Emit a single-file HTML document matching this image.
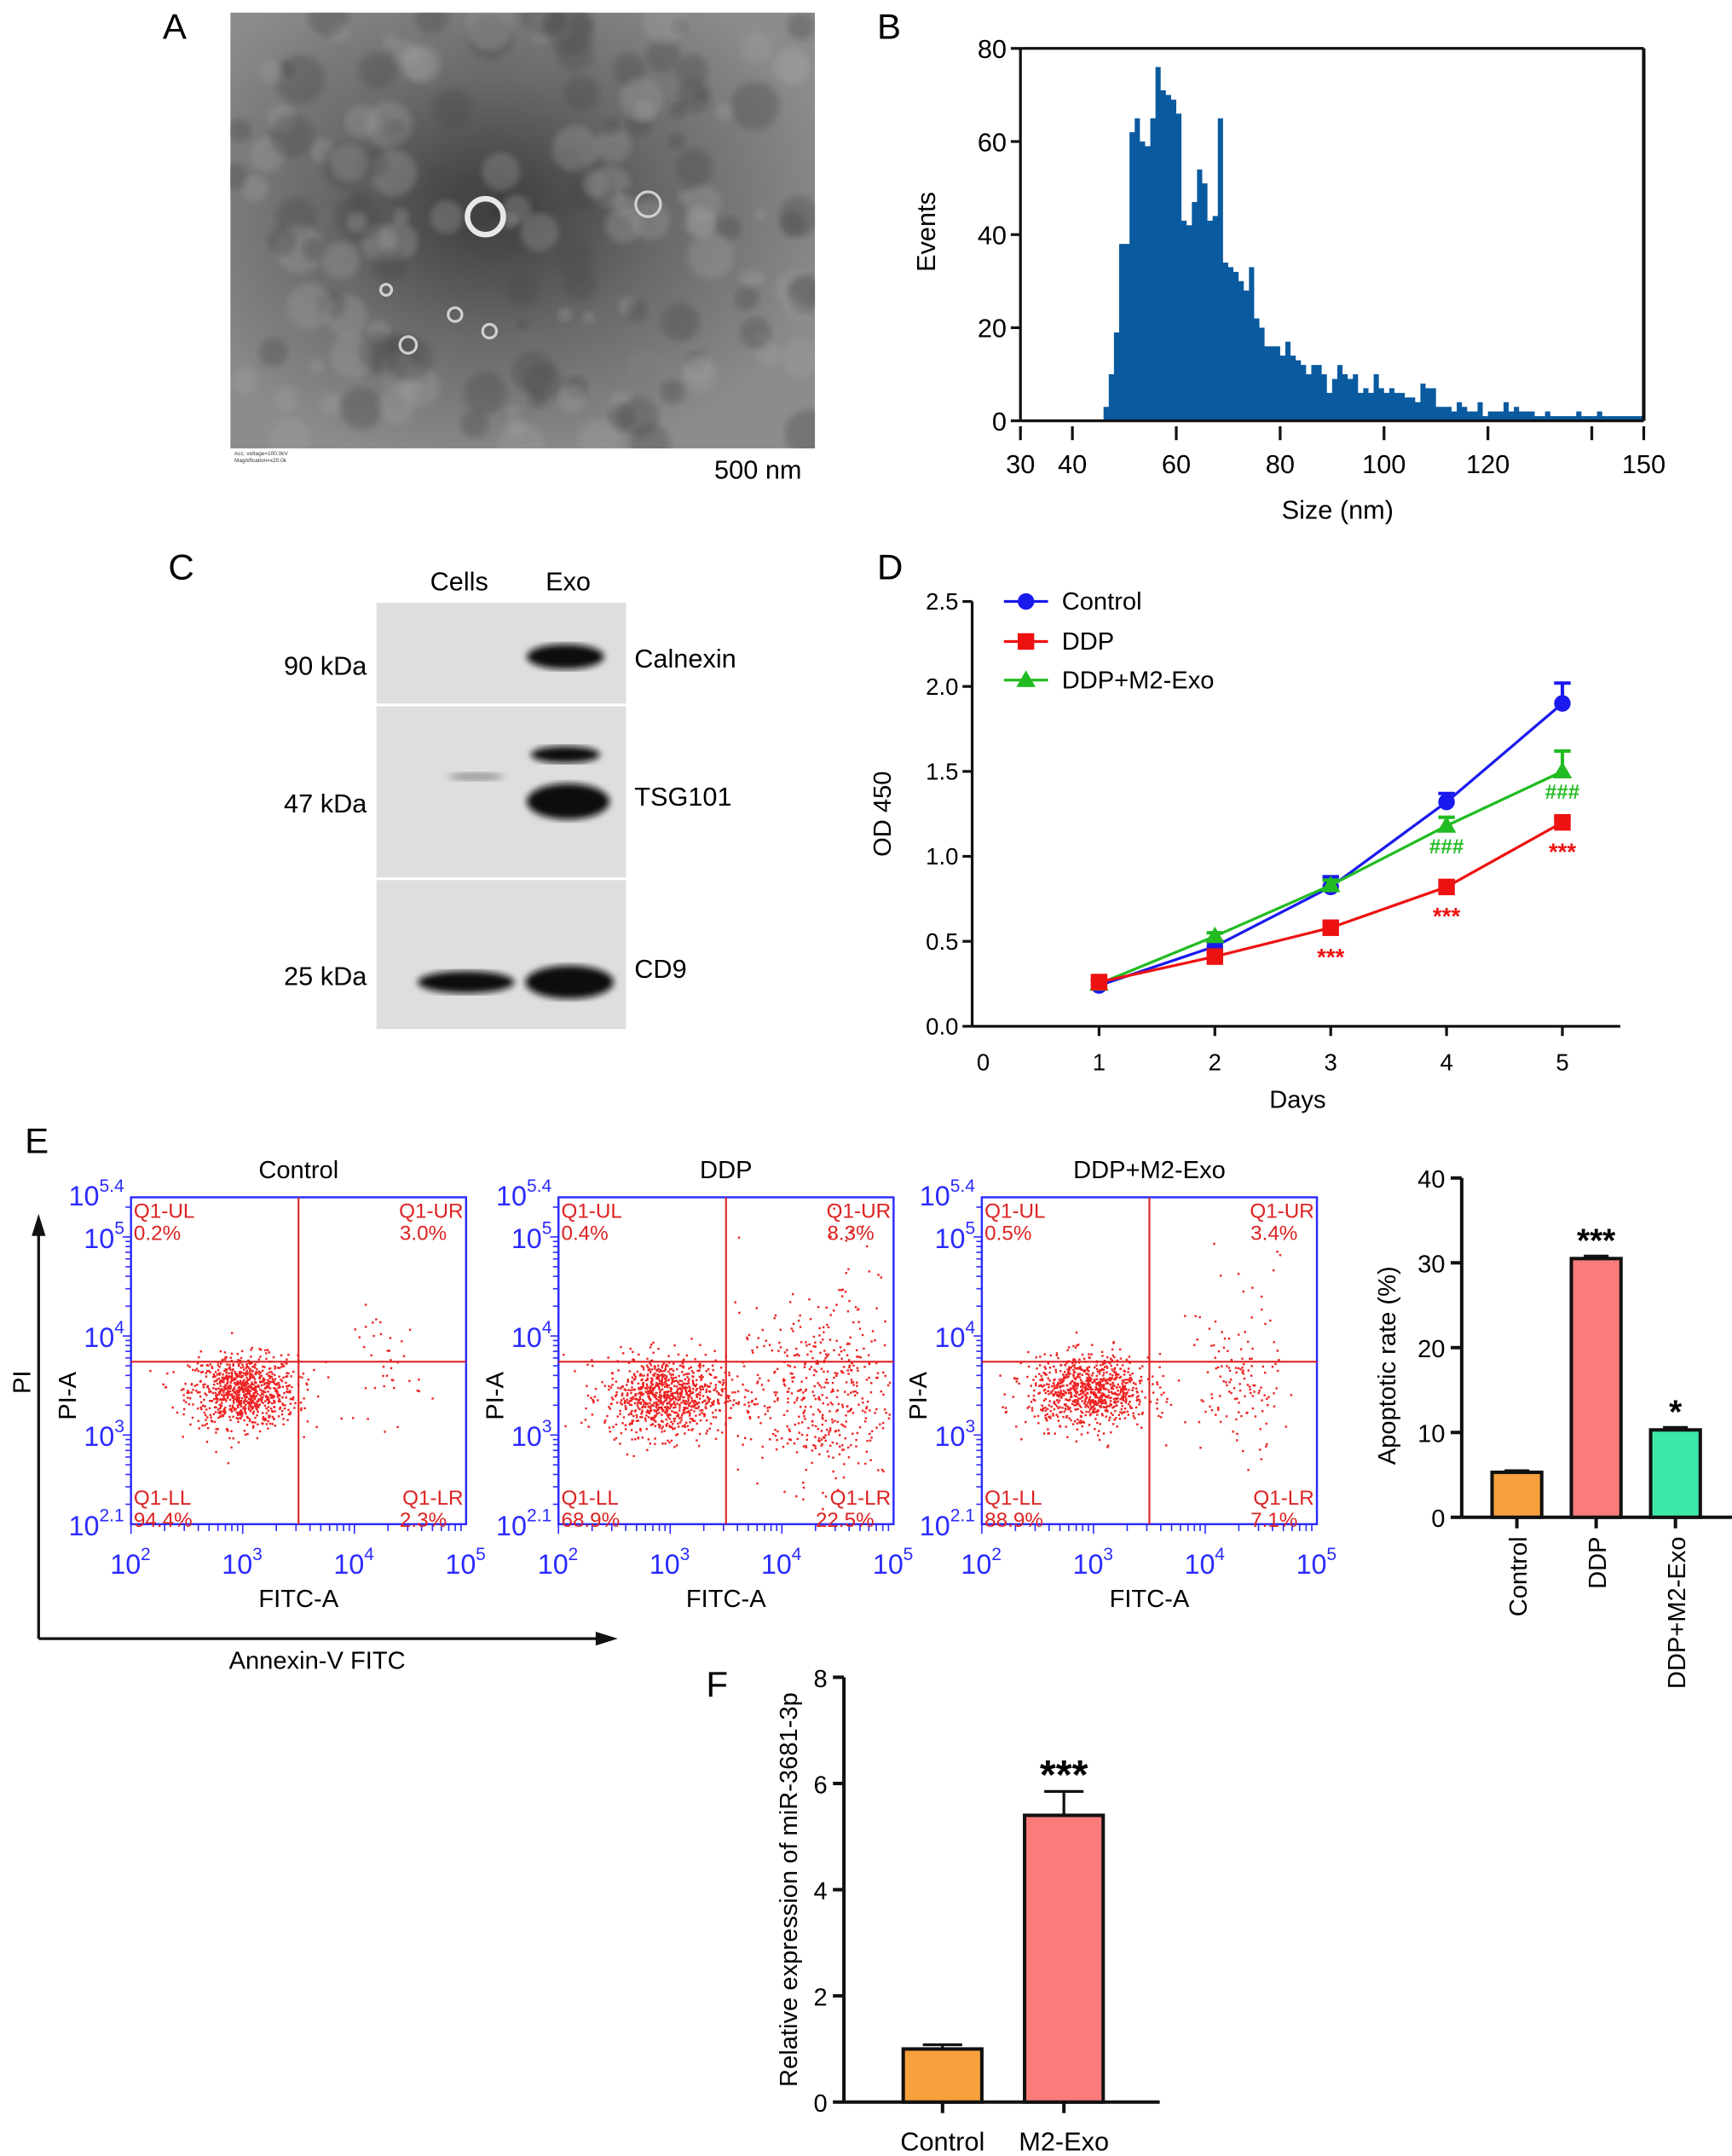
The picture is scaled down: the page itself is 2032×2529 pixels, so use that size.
<!DOCTYPE html>
<html><head><meta charset="utf-8"><style>
html,body{margin:0;padding:0;background:#fff}
svg{display:block}
text{font-family:"Liberation Sans",Arial,sans-serif}
</style></head><body>
<svg id="fig" width="2032" height="2529" viewBox="0 0 1256 1563" xmlns="http://www.w3.org/2000/svg">
<defs>
<radialGradient id="temg" cx="0.45" cy="0.45" r="0.6"><stop offset="0" stop-color="#3a3a3a"/><stop offset="0.5" stop-color="#6a6a6a"/><stop offset="1" stop-color="#8c8c8c"/></radialGradient>
<filter id="blur2"><feGaussianBlur stdDeviation="2.5"/></filter>
<clipPath id="temclip"><rect x="167" y="9" width="424" height="316"/></clipPath>
</defs>
<g id="root"></g>
</svg>
<script>
// ---------- data ----------
const histBins=[46,47,48,49,50,51,52,53,54,55,56,57,58,59,60,61,62,63,64,65,66,67,68,69,70,71,72,73,74,75,76,77,78,79,80,81,82,83,84,85,86,87,88,89,90,91,92,93,94,95,96,97,98,99,100,101,102,103,104,105,106,107,108,109,110,111,112,113,114,115,116,117,118,119,120,121,122,123,124,125,126,127,128,129,130,131,132,133,134,135,136,137,138,139,140,141,142,143,144,145,146,147,148,149];
const histCounts=[3,10,19,38,38,62,65,60,59,65,76,71,70,69,66,43,42,47,54,51,43,44,65,34,33,32,30,28,33,22,20,16,16,16,14,17,14,13,12,10,12,12,10,6,9,12,10,9,10,6,7,6,10,7,6,7,6,6,5,5,4,8,7,7,3,3,3,2,4,3,2,2,4,1,2,2,2,4,2,3,2,2,2,1,1,2,1,1,1,1,1,2,1,1,1,2,1,1,1,1,1,1,1,1];
const histXTicks=[30,40,60,80,100,120,150];
const histYTicks=[0,20,40,60,80];

const days=[1,2,3,4,5];
const odControl=[0.24,0.47,0.82,1.32,1.90];
const odControlErr=[0.03,0.03,0.06,0.05,0.12];
const odDDP=[0.26,0.41,0.58,0.82,1.20];
const odDDPErr=[0.02,0.02,0.02,0.03,0.03];
const odM2=[0.25,0.53,0.83,1.18,1.50];
const odM2Err=[0.02,0.02,0.03,0.05,0.12];
const odYTicks=[0,0.5,1.0,1.5,2.0,2.5];
const odXTicks=[0,1,2,3,4,5];

const apoGroups=["Control","DDP","DDP+M2-Exo"];
const apoValues=[5.3,30.5,10.3];
const apoErr=[0.2,0.3,0.3];
const apoYTicks=[0,10,20,30,40];

const mirGroups=["Control","M2-Exo"];
const mirValues=[1.0,5.4];
const mirErr=[0.08,0.45];
const mirYTicks=[0,2,4,6,8];

const flowTitles=["Control","DDP","DDP+M2-Exo"];
const flowUL=["0.2%","0.4%","0.5%"];
const flowUR=["3.0%","8.3%","3.4%"];
const flowLL=["94.4%","68.9%","88.9%"];
const flowLR=["2.3%","22.5%","7.1%"];
// clusters: [logx, logy, sdx, sdy, count] per panel
const flowClusters=[
 [[3.0,3.45,0.24,0.18,900],[4.3,3.7,0.15,0.3,40]],
 [[2.95,3.4,0.27,0.2,900],[4.3,3.4,0.35,0.45,450],[4.7,4.4,0.2,0.5,40]],
 [[2.95,3.45,0.27,0.18,900],[4.3,3.5,0.18,0.35,120],[4.3,4.4,0.3,0.4,15]]
];

// ---------- helpers ----------
const NS="http://www.w3.org/2000/svg";
const root=document.getElementById('root');
function el(tag,attrs,parent,txt){const e=document.createElementNS(NS,tag);for(const k in attrs)e.setAttribute(k,attrs[k]);if(txt!==undefined)e.textContent=txt;(parent||root).appendChild(e);return e;}
function grp(name,parent){const g=el('g',{},parent);return g;}
let seed=12345;function rnd(){seed=(seed*1103515245+12345)%2147483648;return seed/2147483648;}
function gauss(){let u=rnd()||1e-6,v=rnd();return Math.sqrt(-2*Math.log(u))*Math.cos(2*Math.PI*v);}

// panel letters
[["A",118,28],["B",636,28],["C",122,420],["D",636,420],["E",18,836],["F",512,1230]].forEach(p=>{
 const t=el('text',{x:p[1],y:p[2],'font-size':26},root,p[0]);
 
 
});

// ---------- A: TEM ----------
(function(){
 const g=grp('tem-image');
 const c=el('g',{'clip-path':'url(#temclip)'},g);
 el('rect',{x:167,y:9,width:424,height:316,fill:'url(#temg)'},c);
 for(let i=0;i<160;i++){const cx=167+rnd()*424,cy=9+rnd()*316;el('circle',{cx,cy,r:4+rnd()*14,fill:rnd()<0.5?'#4a4a4a':'#a0a0a0',opacity:0.35,filter:'url(#blur2)'},c);}
 el('circle',{cx:352,cy:157,r:13,fill:'none',stroke:'#e8e8e8','stroke-width':4},c);
 [[470,148,9],[296,250,6],[330,228,5],[355,240,5],[280,210,4]].forEach(k=>el('circle',{cx:k[0],cy:k[1],r:k[2],fill:'none',stroke:'#d0d0d0','stroke-width':2},c));
 const s=el('text',{x:518,y:347,'font-size':19},g,'500 nm');
 
 el('text',{x:170,y:330,'font-size':4,fill:'#333'},g,'Acc. voltage=100.0kV');
 el('text',{x:170,y:335,'font-size':4,fill:'#333'},g,'Magnification=x20.0k');
})();

// ---------- B: histogram ----------
(function(){
 const g=grp('size-histogram');
 const X=v=>740+(v-30)*(1192-740)/120, Y=v=>305-v*(305-35)/80;
 let d='M'+X(histBins[0])+','+Y(0);
 histBins.forEach((b,i)=>{d+=' L'+X(b)+','+Y(histCounts[i])+' L'+X(b+1)+','+Y(histCounts[i]);});
 d+=' L'+X(histBins[histBins.length-1]+1)+','+Y(0)+'Z';
 const p=el('path',{d,fill:'#0a5aa0'},g);
 el('line',{x1:X(30),y1:Y(0),x2:X(150),y2:Y(0),stroke:'#111','stroke-width':2},g);
 el('line',{x1:X(30),y1:Y(80),x2:X(150),y2:Y(80),stroke:'#111','stroke-width':2},g);
 el('line',{x1:X(30),y1:Y(0),x2:X(30),y2:Y(80),stroke:'#111','stroke-width':2},g);
 el('line',{x1:X(150),y1:Y(0),x2:X(150),y2:Y(80),stroke:'#111','stroke-width':2.5},g);
 histYTicks.forEach(v=>{el('line',{x1:X(30)-7,y1:Y(v),x2:X(30),y2:Y(v),stroke:'#111','stroke-width':2},g);
  const t=el('text',{x:X(30)-10,y:Y(v)+7,'font-size':19,'text-anchor':'end'},g,String(v));});
 histXTicks.forEach(v=>{el('line',{x1:X(v),y1:Y(0)+4,x2:X(v),y2:Y(0)+14,stroke:'#111','stroke-width':2},g);
  const t=el('text',{x:X(v),y:Y(0)+38,'font-size':19,'text-anchor':'middle'},g,String(v));});
 el('line',{x1:X(140),y1:Y(0)+4,x2:X(140),y2:Y(0)+14,stroke:'#111','stroke-width':2},g);
 const xt=el('text',{x:970,y:376,'font-size':19,'text-anchor':'middle'},g,'Size (nm)');
 const yt=el('text',{x:0,y:0,'font-size':19,'text-anchor':'middle',transform:'translate(678,168) rotate(-90)'},g,'Events');
})();

// ---------- C: western blot ----------
(function(){
 const g=grp('western-blot');
 [[273,437,73],[273,512,124],[273,638,108]].forEach(r=>el('rect',{x:r[0],y:r[1],width:181,height:r[2],fill:'#dedede'},g));
 el('text',{x:333,y:428,'font-size':19,'text-anchor':'middle'},g,'Cells');
 el('text',{x:412,y:428,'font-size':19,'text-anchor':'middle'},g,'Exo');
 [['90 kDa',489,'Calnexin'],['47 kDa',589,'TSG101'],['25 kDa',714,'CD9']].forEach(r=>{
  el('text',{x:266,y:r[1],'font-size':19,'text-anchor':'end'},g,r[0]);
  const t=el('text',{x:460,y:r[1]-5,'font-size':19},g,r[2]);});
 [[410,476,28,9],[410,547,25,6],[412,581,30,13],[338,712,35,8],[413,712,32,12],[345,563,20,3]].forEach(b=>el('ellipse',{cx:b[0],cy:b[1],rx:b[2],ry:b[3],fill:b[3]<5?'#999':'#111',filter:'url(#blur2)'},g));
})();

// ---------- D: OD line chart ----------
(function(){
 const g=grp('od-line-chart');
 const X=v=>713+v*84, Y=v=>744-v*123.2;
 el('line',{x1:705,y1:Y(0),x2:1175,y2:Y(0),stroke:'#111','stroke-width':2},g);
 el('line',{x1:705,y1:Y(0),x2:705,y2:Y(2.5),stroke:'#111','stroke-width':2},g);
 odYTicks.forEach(v=>{el('line',{x1:698,y1:Y(v),x2:705,y2:Y(v),stroke:'#111','stroke-width':2},g);
  const t=el('text',{x:695,y:Y(v)+6,'font-size':17,'text-anchor':'end'},g,v.toFixed(1));});
 odXTicks.forEach(v=>{if(v>0)el('line',{x1:X(v),y1:Y(0),x2:X(v),y2:Y(0)+7,stroke:'#111','stroke-width':2},g);
  const t=el('text',{x:X(v),y:Y(0)+32,'font-size':17,'text-anchor':'middle'},g,String(v));});
 el('text',{x:941,y:803,'font-size':18,'text-anchor':'middle'},g,'Days');
 el('text',{x:0,y:0,'font-size':18,'text-anchor':'middle',transform:'translate(646,590) rotate(-90)'},g,'OD 450');
 const series=[[odControl,odControlErr,'#1a1aee','circle','control'],[odM2,odM2Err,'#22bb22','tri','m2'],[odDDP,odDDPErr,'#ee1111','square','ddp']];
 series.forEach(s=>{
  const sg=grp('series-'+s[4],g);
  el('polyline',{points:days.map((d,i)=>X(d)+','+Y(s[0][i])).join(' '),fill:'none',stroke:s[2],'stroke-width':2},sg);
  days.forEach((d,i)=>{
   const x=X(d),y=Y(s[0][i]),ye=Y(s[0][i]+s[1][i]);
   el('line',{x1:x,y1:y,x2:x,y2:ye,stroke:s[2],'stroke-width':2.5},sg);
   el('line',{x1:x-6,y1:ye,x2:x+6,y2:ye,stroke:s[2],'stroke-width':2.5},sg);
   let m;
   if(s[3]==='circle')m=el('circle',{cx:x,cy:y,r:6,fill:s[2]},sg);
   else if(s[3]==='square')m=el('rect',{x:x-6,y:y-6,width:12,height:12,fill:s[2]},sg);
   else m=el('polygon',{points:`${x},${y-7} ${x-7},${y+5} ${x+7},${y+5}`,fill:s[2]},sg);
   
  });
 });
 [[3,odDDP[2],'***','#ee1111'],[4,odDDP[3],'***','#ee1111'],[5,odDDP[4],'***','#ee1111'],[4,odM2[3],'###','#22bb22'],[5,odM2[4],'###','#22bb22']].forEach(a=>{
  el('text',{x:X(a[0]),y:Y(a[1])+(a[2]==='***'?27:20),'font-size':a[2]==='***'?17:15,'text-anchor':'middle',fill:a[3],'font-weight':'bold'},g,a[2]);});
 const leg=grp('od-legend',g);
 [['Control','#1a1aee','circle',436],['DDP','#ee1111','square',465],['DDP+M2-Exo','#22bb22','tri',493]].forEach(l=>{
  el('line',{x1:728,y1:l[3],x2:760,y2:l[3],stroke:l[1],'stroke-width':2},leg);
  if(l[2]==='circle')el('circle',{cx:744,cy:l[3],r:6,fill:l[1]},leg);
  else if(l[2]==='square')el('rect',{x:738,y:l[3]-6,width:12,height:12,fill:l[1]},leg);
  else el('polygon',{points:`744,${l[3]-7} 737,${l[3]+5} 751,${l[3]+5}`,fill:l[1]},leg);
  const t=el('text',{x:770,y:l[3]+6,'font-size':18},leg,l[0]);
 });
})();

// ---------- E: flow plots ----------
(function(){
 const g=grp('flow-cytometry');
 el('line',{x1:28,y1:1188,x2:28,y2:888,stroke:'#111','stroke-width':2},g);
 el('polygon',{points:'28,880 23,896 33,896',fill:'#111'},g);
 el('line',{x1:28,y1:1188,x2:440,y2:1188,stroke:'#111','stroke-width':2},g);
 el('polygon',{points:'448,1188 432,1183 432,1193',fill:'#111'},g);
 el('text',{x:230,y:1210,'font-size':18,'text-anchor':'middle'},g,'Annexin-V FITC');
 el('text',{x:0,y:0,'font-size':18,'text-anchor':'middle',transform:'translate(22,1002) rotate(-90)'},g,'PI');
 const lefts=[95,405,712];
 lefts.forEach((x0,p)=>{
  const pg=grp('flow-plot-'+p,g);
  const w=243,y0=868,y1=1105;
  const X=v=>x0+(v-2)*w/3, Y=v=>y1-(v-2.1)*(y1-y0)/3.3;
  el('text',{x:x0+w/2,y:854,'font-size':18,'text-anchor':'middle'},pg,flowTitles[p]);
  flowClusters[p].forEach(c=>{for(let i=0;i<c[4];i++){const lx=c[0]+gauss()*c[2],ly=c[1]+gauss()*c[3];if(lx<2.02||lx>4.98||ly<2.15||ly>5.35)continue;el('rect',{x:X(lx),y:Y(ly),width:1.5,height:1.5,fill:'#ee2222'},pg);}});
  el('rect',{x:x0,y:y0,width:w,height:y1-y0,fill:'none',stroke:'#2a2aff','stroke-width':1.5},pg);
  el('line',{x1:X(3.5),y1:y0,x2:X(3.5),y2:y1,stroke:'#dd2222','stroke-width':1.3},pg);
  el('line',{x1:x0,y1:Y(3.74),x2:x0+w,y2:Y(3.74),stroke:'#dd2222','stroke-width':1.3},pg);
  for(let d=2;d<=5;d++)for(let k=1;k<10;k++){const v=d+Math.log10(k);if(v<2.1||v>5.4)continue;el('line',{x1:x0-(k===1?6:4),y1:Y(v),x2:x0,y2:Y(v),stroke:'#2a2aff','stroke-width':1},pg);}
  for(let d=2;d<5;d++)for(let k=1;k<10;k++){const v=d+Math.log10(k);el('line',{x1:X(v),y1:y1,x2:X(v),y2:y1+(k===1?7:5),stroke:'#2a2aff','stroke-width':1},pg);}
  [['5.4',5.4],['5',5],['4',4],['3',3],['2.1',2.1]].forEach(t=>{const yy=Y(t[1])+(t[0]==='5.4'?6:8);const off=t[0].length>1?20:9;el('text',{x:x0-3-off,y:yy,'font-size':20,fill:'#2a2aff','text-anchor':'end'},pg,'10');el('text',{x:x0-3-off,y:yy-10,'font-size':13,fill:'#2a2aff'},pg,t[0]);});
  [2,3,4,5].forEach(v=>{el('text',{x:X(v)-4,y:y1+36,'font-size':20,fill:'#2a2aff','text-anchor':'middle'},pg,'10');el('text',{x:X(v)+7,y:y1+26,'font-size':13,fill:'#2a2aff'},pg,String(v));});
  el('text',{x:x0+w/2,y:1165,'font-size':18,'text-anchor':'middle'},pg,'FITC-A');
  el('text',{x:0,y:0,'font-size':18,'text-anchor':'middle',transform:`translate(${x0-40},1012) rotate(-90)`},pg,'PI-A');
  const lbl=(x,y,t,a)=>{const e=el('text',{x,y,'font-size':15,fill:'#dd2222','text-anchor':a},pg,t);};
  lbl(x0+2,y0+15,'Q1-UL','start');lbl(x0+2,y0+31,flowUL[p],'start');
  lbl(x0+w-2,y0+15,'Q1-UR','end');lbl(x0+w-14,y0+31,flowUR[p],'end');
  lbl(x0+2,y1-14,'Q1-LL','start');lbl(x0+2,y1+2,flowLL[p],'start');
  lbl(x0+w-2,y1-14,'Q1-LR','end');lbl(x0+w-14,y1+2,flowLR[p],'end');
 });
})();

// ---------- bar chart helper ----------
function barChart(name,ax,y0,yTop,maxV,ticks,groups,vals,errs,cols,barW,startX,gap,stars,rotLabels,yTitle,ytx){
 const g=grp(name);
 const Y=v=>y0-v*(y0-yTop)/maxV;
 const endX=startX+groups.length*gap+10;
 el('line',{x1:ax,y1:y0,x2:endX,y2:y0,stroke:'#111','stroke-width':2.5},g);
 el('line',{x1:ax,y1:y0,x2:ax,y2:yTop,stroke:'#111','stroke-width':2.5},g);
 ticks.forEach(v=>{el('line',{x1:ax-8,y1:Y(v),x2:ax,y2:Y(v),stroke:'#111','stroke-width':2.5},g);
  const t=el('text',{x:ax-12,y:Y(v)+7,'font-size':18,'text-anchor':'end'},g,String(v));});
 groups.forEach((gn,i)=>{
  const x=startX+i*gap, cx=x+barW/2;
  el('line',{x1:cx,y1:Y(vals[i]),x2:cx,y2:Y(vals[i]+errs[i]),stroke:'#111','stroke-width':2},g);
  el('line',{x1:cx-barW*0.25,y1:Y(vals[i]+errs[i]),x2:cx+barW*0.25,y2:Y(vals[i]+errs[i]),stroke:'#111','stroke-width':2},g);
  const b=el('rect',{x,y:Y(vals[i]),width:barW,height:y0-Y(vals[i]),fill:cols[i],stroke:'#111','stroke-width':2.5},g);
  
  el('line',{x1:cx,y1:y0,x2:cx,y2:y0+8,stroke:'#111','stroke-width':2.5},g);
  if(stars[i])el('text',{x:cx,y:Y(vals[i]+errs[i])-(rotLabels?3:2),'font-size':rotLabels?24:30,'font-weight':'bold','text-anchor':'middle'},g,stars[i]);
  const t=rotLabels?el('text',{x:0,y:0,'font-size':18,'text-anchor':'end',transform:`translate(${cx+7},${y0+14}) rotate(-90)`},g,gn):el('text',{x:cx,y:y0+35,'font-size':19,'text-anchor':'middle'},g,gn);
  
 });
 el('text',{x:0,y:0,'font-size':18,'text-anchor':'middle',transform:`translate(${ytx[0]},${ytx[1]}) rotate(-90)`},g,yTitle);
}
barChart('apoptosis-bar-chart',1060,1100,854,40,apoYTicks,apoGroups,apoValues,apoErr,['#f7a03c','#fb7b7b','#3de8a8'],36,1082,57.5,['','***','*'],true,'Apoptotic rate (%)',[1012,990]);
barChart('mir-bar-chart',612,1524,1216,8,mirYTicks,mirGroups,mirValues,mirErr,['#f7a03c','#fb7b7b'],57,655,88,['','***'],false,'Relative expression of miR-3681-3p',[578,1370]);
</script>
</body></html>
